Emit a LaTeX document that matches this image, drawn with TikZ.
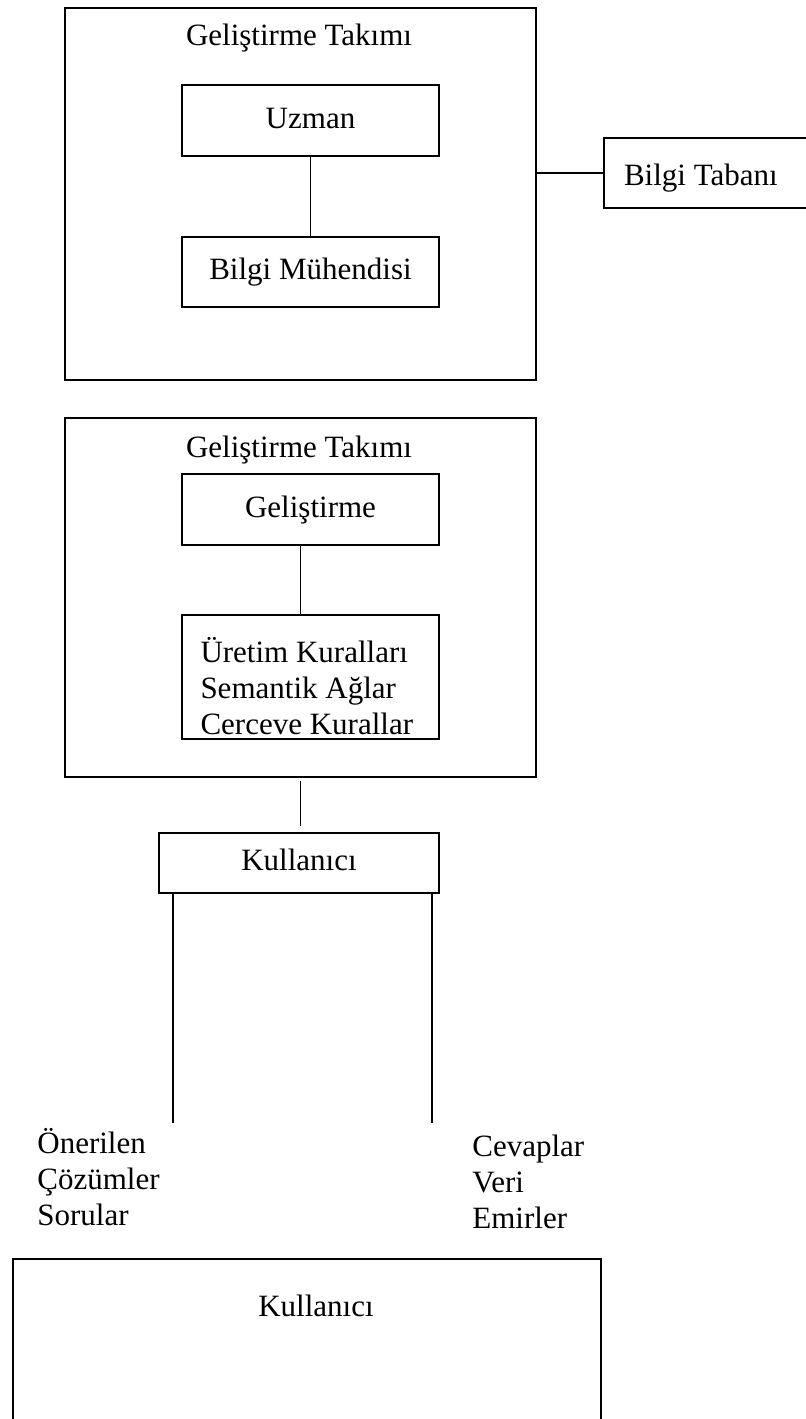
\documentclass[tikz,border=0pt]{standalone}
\usepackage{fontspec}
\setmainfont{Liberation Serif}
\usetikzlibrary{positioning}
\newcommand{\yazi}{\fontsize{15.5}{18}\selectfont}
\tikzset{
  takim/.style={draw, line width=1.2pt, minimum width=235.5pt, inner sep=0pt},
  kutu/.style={draw, line width=1pt, minimum width=128.5pt, minimum height=35.5pt,
    inner sep=0pt, font=\yazi, text height=11.6pt, text depth=3.9pt},
  yazi/.style={font=\yazi, inner sep=0pt},
  hat/.style={line width=0.9pt},
}

\begin{document}
\begin{tikzpicture}[x=0.5pt, y=-0.5pt]
    \useasboundingbox (0,0) rectangle (806,1419);
    % ust blok
    \node[takim, minimum height=186pt] (takim1) at (300.5,194) {};
    \node[yazi, anchor=base] (baslik1) at (299,45) {Geliştirme Takımı};
    \node[kutu] (uzman) at (310.5,120.5) {Uzman};
    \node[kutu, minimum height=35pt] (muhendis) at (310.5,272) {Bilgi Mühendisi};
    \node[kutu, anchor=west, minimum height=35pt, align=flush left, text width=108.5pt,
      inner xsep=10pt, text height=14.1pt, text depth=1.4pt] (taban) at (603,173) {Bilgi Tabanı};
    \draw[hat] (uzman) -- (muhendis);
    \draw[hat] (takim1.east |- taban.west) -- (taban.west);

    % orta blok
    \node[takim, minimum height=179.5pt] (takim2) at (300.5,597.5) {};
    \node[yazi, anchor=base] (baslik2) at (299,457) {Geliştirme Takımı};
    \node[kutu] (gelistirme) at (310.5,509.5) {Geliştirme};
    \node[draw, line width=1pt, minimum width=128.5pt, minimum height=62pt,
      inner sep=0pt, font=\yazi, align=flush left, text width=110pt,
      inner xsep=9.25pt] (kurallar) at (310.5,677)
      {\rule{0pt}{21.5pt}Üretim Kuralları\\Semantik Ağlar\\Cerceve Kurallar};
    \draw[hat] (gelistirme.south -| takim2.center) -- (kurallar.north -| takim2.center);

    % kullanici ve akislar
    \node[kutu, minimum width=140pt, minimum height=30pt] (kullanici) at (299,863) {Kullanıcı};
    \draw[hat, shorten <=1.5pt, shorten >=3pt] (takim2.south) -- (takim2.south |- kullanici.north);
    \coordinate (sol) at (173,1123);
    \coordinate (sag) at (432,1123);
    \foreach \k in {sol,sag}
      \draw[hat] (kullanici.south -| \k) -- (\k);
    \node[yazi, anchor=north west, align=left] (oneriler) at (37,1128)
      {Önerilen\\Çözümler\\Sorular};
    \node[yazi, anchor=north west, align=left] (cevaplar) at (472,1135)
      {Cevaplar\\Veri\\Emirler};

    % alt blok
    \node[takim, minimum width=294pt, minimum height=120pt, anchor=north west]
      (kullanici2) at (12,1258) {};
    \node[yazi, anchor=base] (baslik3) at (316,1316) {Kullanıcı};
\end{tikzpicture}
\end{document}
